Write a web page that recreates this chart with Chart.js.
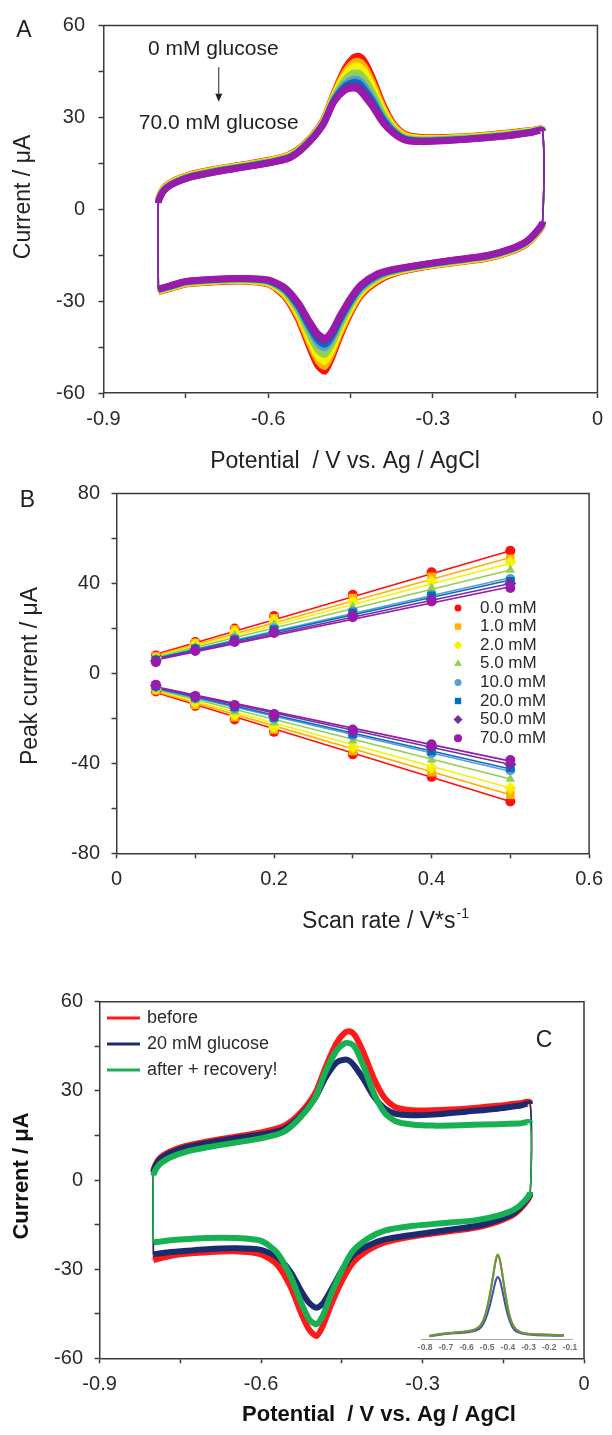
<!DOCTYPE html>
<html>
<head>
<meta charset="utf-8">
<script src="https://cdn.jsdelivr.net/npm/chart.js@4.4.1/dist/chart.umd.min.js"></script>
<style>
  body { margin: 0; background: #fff; }
  #figure { position: relative; width: 612px; height: 1435px; }
  #figure canvas { position: absolute; left: 0; }
</style>
</head>
<body>
<div id="figure">
  <canvas id="cvGlucose" width="612" height="480" style="top:0"></canvas>
  <canvas id="peakCurrents" width="612" height="480" style="top:470px"></canvas>
  <canvas id="cvRecovery" width="612" height="485" style="top:950px"></canvas>
  <canvas id="dpvInset" width="190" height="130" style="left:400px; top:1230px"></canvas>
</div>
<script>
// ---- Panel A: cyclic voltammograms with increasing glucose ----
const concentrations = ['0.0 mM', '1.0 mM', '2.0 mM', '5.0 mM', '10.0 mM', '20.0 mM', '50.0 mM', '70.0 mM'];

// potential grid of the anodic (upper) and cathodic (lower) sweep, V
const anodicPotential = [-0.8, -0.8, -0.79, -0.77, -0.74, -0.70, -0.65, -0.60, -0.56, -0.53, -0.50, -0.48, -0.46,
  -0.445, -0.435, -0.425, -0.41, -0.39, -0.37, -0.35, -0.32, -0.28, -0.22, -0.16, -0.12, -0.10];
const cathodicPotential = [-0.10, -0.11, -0.13, -0.16, -0.20, -0.26, -0.32, -0.37, -0.40, -0.43, -0.45, -0.47,
  -0.485, -0.497, -0.51, -0.525, -0.545, -0.57, -0.60, -0.65, -0.70, -0.75, -0.78, -0.80];

// current in µA, one row per concentration
const anodicCurrents = [
  [-27, 3, 7, 9.5, 11.5, 13, 14.5, 16, 18, 22, 29, 38, 46, 49.5, 50, 48.5, 43, 34, 27.5, 24.5, 23.5, 23.5, 24, 25, 25.8, 26],
  [-26.9, 2.9, 6.9, 9.4, 11.4, 12.9, 14.4, 15.9, 17.8, 21.9, 28.8, 37.6, 44.9, 48, 48.4, 46.8, 41.6, 33.1, 27.1, 24.2, 23.3, 23.3, 23.9, 24.9, 25.7, 25.9],
  [-26.7, 2.7, 6.7, 9.2, 11.2, 12.7, 14.2, 15.7, 17.7, 21.7, 28.6, 37.1, 43.9, 46.6, 46.8, 45.2, 40.2, 32.3, 26.6, 23.9, 23.1, 23.2, 23.7, 24.7, 25.6, 25.9],
  [-26.5, 2.5, 6.5, 9, 11, 12.5, 14, 15.5, 17.4, 21.5, 28.3, 36.5, 42.4, 44.5, 44.5, 42.8, 38.3, 31, 26, 23.5, 22.8, 22.9, 23.5, 24.5, 25.4, 25.8],
  [-26.3, 2.3, 6.3, 8.8, 10.8, 12.3, 13.8, 15.3, 17.2, 21.3, 28, 35.9, 41, 42.5, 42.3, 40.5, 36.4, 29.8, 25.4, 23.1, 22.5, 22.7, 23.3, 24.3, 25.2, 25.7],
  [-26.2, 2.2, 6.2, 8.7, 10.7, 12.2, 13.7, 15.2, 17, 21.2, 27.8, 35.6, 40.2, 41.5, 41.2, 39.3, 35.4, 29.2, 25.1, 22.9, 22.3, 22.5, 23.2, 24.2, 25.2, 25.6],
  [-26.1, 2.1, 6.1, 8.6, 10.6, 12.1, 13.6, 15.1, 16.9, 21.1, 27.7, 35.3, 39.5, 40.5, 40.1, 38.2, 34.5, 28.6, 24.8, 22.7, 22.2, 22.4, 23.1, 24.1, 25.1, 25.6],
  [-26, 2, 6, 8.5, 10.5, 12, 13.5, 15, 16.8, 21, 27.5, 35, 38.8, 39.5, 39, 37, 33.5, 28, 24.5, 22.5, 22, 22.3, 23, 24, 25, 25.5]
];
const cathodicCurrents = [
  [-5, -8, -11.5, -14, -16, -17.5, -19, -21, -23.5, -28, -34, -42, -49, -53, -51, -45, -36, -28.5, -24.5, -23.5, -23.8, -24.5, -26, -27],
  [-4.9, -7.9, -11.4, -13.9, -15.9, -17.4, -18.9, -20.8, -23.1, -27.5, -33.3, -41, -47.7, -51.4, -49.4, -43.7, -35.2, -28.1, -24.3, -23.4, -23.7, -24.4, -25.9, -26.9],
  [-4.7, -7.7, -11.2, -13.7, -15.7, -17.2, -18.7, -20.6, -22.8, -27, -32.6, -40, -46.4, -49.8, -48, -42.5, -34.4, -27.6, -24.1, -23.2, -23.5, -24.2, -25.7, -26.7],
  [-4.5, -7.5, -11, -13.5, -15.5, -17, -18.5, -20.3, -22.3, -26.3, -31.5, -38.5, -44.5, -47.5, -45.8, -40.8, -33.3, -27, -23.8, -23, -23.3, -24, -25.5, -26.5],
  [-4.3, -7.3, -10.8, -13.3, -15.3, -16.8, -18.3, -20, -21.8, -25.6, -30.5, -37.1, -42.7, -45.3, -43.7, -39.1, -32.2, -26.4, -23.5, -22.8, -23.1, -23.8, -25.3, -26.3],
  [-4.2, -7.2, -10.7, -13.2, -15.2, -16.7, -18.2, -19.8, -21.5, -25.2, -30, -36.4, -41.8, -44.2, -42.6, -38.2, -31.6, -26.1, -23.3, -22.7, -23, -23.7, -25.2, -26.2],
  [-4.1, -7.1, -10.6, -13.1, -15.1, -16.6, -18.1, -19.7, -21.3, -24.9, -29.5, -35.7, -40.9, -43.1, -41.6, -37.3, -31.1, -25.8, -23.2, -22.6, -22.9, -23.6, -25.1, -26.1],
  [-4, -7, -10.5, -13, -15, -16.5, -18, -19.5, -21, -24.5, -29, -35, -40, -42, -40.5, -36.5, -30.5, -25.5, -23, -22.5, -22.8, -23.5, -25, -26]
];

// ---- Panel B: peak current vs scan rate ----
const scanRates = [0.05, 0.1, 0.15, 0.2, 0.3, 0.4, 0.5];
const anodicPeaks = [
  [8, 14, 20, 25.5, 35, 45, 54.5],
  [7.5, 13.5, 19.5, 24.5, 33.5, 43, 51],
  [7, 13, 18.5, 23.5, 32, 41, 49.5],
  [7, 12, 17, 22, 29.5, 38, 46],
  [6, 11, 15.5, 20, 27.5, 35, 42],
  [6, 11, 15, 19.5, 27, 34.5, 41],
  [5.5, 10.5, 14.5, 18.5, 26, 33, 40],
  [5, 10, 14, 18, 25, 32, 38]
];
const cathodicPeaks = [
  [-8, -14.5, -20.5, -26, -36, -46, -57],
  [-7.5, -14, -19.5, -25, -34.5, -44, -54],
  [-7, -13, -18.5, -24, -33, -42, -51],
  [-6.5, -12, -17, -22, -30, -38.5, -47],
  [-6, -11, -15.5, -20, -27.5, -35.5, -43],
  [-5.5, -10.5, -15, -19.5, -27, -34.5, -42],
  [-5.5, -10.5, -14.5, -19, -26, -33, -40.5],
  [-5, -10, -14, -18, -25, -31.5, -38.5]
];
// linear fits, value at first and last scan rate
const fitRange = [0.05, 0.5];
const anodicFit = [[8.5, 54.5], [8, 51.5], [7.6, 49], [7.3, 46], [6.8, 42.5], [6.6, 41.5], [6.3, 40], [6, 38.5]];
const cathodicFit = [[-8.5, -57], [-8, -54], [-7.6, -51], [-7.2, -47], [-6.8, -43.5], [-6.5, -42.5], [-6.2, -40.5], [-6, -39]];

// ---- Panel C: before / with glucose / after ----
const recoveryLabels = ['before', '20 mM glucose', 'after + recovery!'];
const recoveryAnodic = [
  [-27, 3, 7, 9.5, 11.5, 13, 14.5, 16, 18, 22, 29, 38, 46, 49.5, 50, 48.5, 43, 34, 27.5, 24.5, 23.5, 23.5, 24, 25, 25.8, 26],
  [-25, 2.5, 6.5, 9, 11, 12.5, 14, 15.3, 17, 21, 27.5, 34.5, 39.5, 40.5, 40, 38, 34, 28, 24, 22.3, 21.8, 22, 23, 24, 25, 25.5],
  [-21, 1.5, 5, 7.5, 9.5, 11, 12.5, 14, 16, 20.5, 27.5, 36.5, 43.5, 46, 46, 44.5, 38.5, 29, 22.5, 19.8, 18.7, 18.3, 18.5, 18.8, 19, 19.2]
];
const recoveryCathodic = [
  [-5, -8, -11.5, -14, -16, -17.5, -19, -21, -23.5, -28, -34, -42, -49, -52.5, -50.5, -45, -36, -28.5, -25, -24, -24.3, -25, -26, -27],
  [-4.5, -7.5, -11, -13.5, -15.5, -17, -18.5, -20, -22, -25.5, -30.5, -37, -41.5, -43, -41.5, -37.5, -31, -26, -23.5, -23, -23.3, -24, -24.5, -25],
  [-4, -7, -10, -12, -13.5, -14.5, -15.5, -17, -19.5, -24, -30.5, -38.5, -45.5, -48.5, -47, -41.5, -32.5, -24.5, -20.5, -19.5, -19.5, -20, -20.5, -21]
];

// inset: peak traces
const insetPotential = [-0.78, -0.72, -0.66, -0.60, -0.56, -0.53, -0.51, -0.49, -0.47, -0.46, -0.45, -0.44, -0.43,
  -0.41, -0.39, -0.37, -0.34, -0.30, -0.25, -0.20, -0.15, -0.13];
const insetBefore = [1.0, 1.6, 2.0, 2.4, 3.0, 4.5, 7.5, 13, 20.5, 24.5, 26.8, 25.5, 22, 13.5, 7, 3.8, 2.2, 1.6, 1.4, 1.3, 1.2, 1.2];
const insetGlucose = [0.9, 1.4, 1.8, 2.1, 2.6, 3.7, 6, 10, 15.5, 18.3, 19.8, 19, 16.5, 10.2, 5.5, 3, 1.9, 1.4, 1.2, 1.1, 1.0, 1.0];
const insetAfter = [1.1, 1.7, 2.1, 2.5, 3.1, 4.6, 7.6, 13.2, 20.8, 24.8, 27, 25.6, 22, 13.4, 6.9, 3.8, 2.3, 1.7, 1.5, 1.4, 1.3, 1.3];

// tick positions
const potentialTicks = [-0.9, -0.75, -0.6, -0.45, -0.3, -0.15, 0];
const potentialLabels = [-0.9, -0.6, -0.3, 0];
const currentTicks = [-60, -45, -30, -15, 0, 15, 30, 45, 60];
const currentLabels = [-60, -30, 0, 30, 60];
const scanTicks = [0, 0.1, 0.2, 0.3, 0.4, 0.5, 0.6];
const scanLabels = [0, 0.2, 0.4, 0.6];
const peakTicks = [-80, -60, -40, -20, 0, 20, 40, 60, 80];
const peakLabels = [-80, -40, 0, 40, 80];
const insetTicks = [-0.8, -0.7, -0.6, -0.5, -0.4, -0.3, -0.2, -0.1];

// styles
const FONT = '"Liberation Sans", Arial, Helvetica, sans-serif';
const seriesColors = ['#ff1010', '#ffb000', '#f7f200', '#92d050', '#5b9bd5', '#0070c0', '#7030a0', '#9a1aac'];
const seriesMarkers = ['circle', 'rect', 'rectRot', 'triangle', 'circle', 'rect', 'rectRot', 'circle'];
const markerRadius = [5, 6, 6, 5.5, 5, 6, 6, 5];
const legendRadius = [3.5, 4.5, 4.5, 4.5, 3.5, 4.5, 4.5, 4];
const recoveryColors = ['#ff1a1a', '#1c2a6e', '#17b154'];
const insetColors = ['#e3652c', '#3a53a4', '#5f9c3c'];
const AXIS = '#3a3a3a';

Chart.defaults.font.family = FONT;
Chart.defaults.animation = false;
Chart.defaults.plugins.legend.display = false;
Chart.defaults.plugins.tooltip.enabled = false;

// top and right edge of the plot box
const frame = {
  id: 'frame',
  afterDraw(chart, args, o) {
    if (!o.color) return;
    const {ctx, chartArea: a} = chart;
    ctx.save();
    ctx.strokeStyle = o.color;
    ctx.lineWidth = o.width;
    ctx.beginPath();
    ctx.moveTo(a.left, a.top);
    ctx.lineTo(a.right, a.top);
    ctx.lineTo(a.right, a.bottom);
    ctx.stroke();
    ctx.restore();
  }
};

// free text, panel letters, axis titles and arrows
const panelText = {
  id: 'panelText',
  afterDraw(chart, args, o) {
    const ctx = chart.ctx;
    const {x: sx, y: sy} = chart.scales;
    (o.items || []).forEach(t => {
      let x = t.x, y = t.y;
      if (t.data) { x = sx.getPixelForValue(t.x); y = sy.getPixelForValue(t.y); }
      ctx.save();
      ctx.fillStyle = t.color || '#222';
      ctx.strokeStyle = t.color || '#222';
      ctx.translate(x, y);
      if (t.rotate) ctx.rotate(t.rotate);
      if (t.arrowTo !== undefined) {
        const y2 = sy.getPixelForValue(t.arrowTo) - y;
        ctx.lineWidth = 1;
        ctx.beginPath(); ctx.moveTo(0, 0); ctx.lineTo(0, y2 - 6); ctx.stroke();
        ctx.beginPath(); ctx.moveTo(-3.5, y2 - 8); ctx.lineTo(3.5, y2 - 8); ctx.lineTo(0, y2); ctx.closePath(); ctx.fill();
      } else {
        ctx.font = t.font;
        ctx.textBaseline = 'middle';
        let w = ctx.measureText(t.text).width, ws = 0;
        if (t.sup) { ctx.font = t.supFont; ws = ctx.measureText(t.sup).width; ctx.font = t.font; }
        ctx.textAlign = 'left';
        ctx.fillText(t.text, -(w + ws) / 2, 0);
        if (t.sup) { ctx.font = t.supFont; ctx.fillText(t.sup, -(w + ws) / 2 + w + 1, -8); }
      }
      ctx.restore();
    });
  }
};

// legend drawn inside the plot area
const innerLegend = {
  id: 'innerLegend',
  afterDraw(chart, args, o) {
    if (!o.labels) return;
    const ctx = chart.ctx;
    ctx.save();
    ctx.font = o.font;
    ctx.textBaseline = 'middle';
    ctx.textAlign = 'left';
    o.labels.forEach((label, i) => {
      const y = o.y + i * o.rowHeight;
      ctx.fillStyle = o.colors[i];
      ctx.strokeStyle = o.colors[i];
      if (o.kind === 'line') {
        ctx.lineWidth = o.lineWidth;
        ctx.beginPath(); ctx.moveTo(o.x, y); ctx.lineTo(o.x + o.lineLength, y); ctx.stroke();
      } else {
        Chart.helpers.drawPoint(ctx, {pointStyle: o.styles[i], radius: o.radii[i], rotation: 0, borderWidth: 0}, o.x, y);
      }
      ctx.fillStyle = o.textColor;
      ctx.fillText(label, o.textX, y);
    });
    ctx.restore();
  }
};

Chart.register(frame, panelText, innerLegend);

function loop(fwd, rev) {
  return anodicPotential.map((e, i) => ({x: e, y: fwd[i]}))
    .concat(cathodicPotential.map((e, i) => ({x: e, y: rev[i]})));
}

// vertical switching edges are drawn thin
const thinVertical = w => ctx => Math.abs(ctx.p0.x - ctx.p1.x) < 0.6 ? 1.5 : w;

function axis(min, max, ticks, labels, opts) {
  return {
    type: 'linear', min, max,
    afterBuildTicks: s => { s.ticks = ticks.map(v => ({value: v})); },
    afterFit: s => { if (opts.width) s.width = opts.width; if (opts.height) s.height = opts.height; },
    ticks: {
      autoSkip: false, maxRotation: 0, padding: opts.padding,
      color: '#2a2a2a', font: {size: 20},
      callback: v => labels.includes(v) ? String(v) : ''
    },
    grid: {drawOnChartArea: false, drawTicks: true, tickLength: 5, tickColor: AXIS, tickWidth: 1.5},
    border: {display: true, color: AXIS, width: 1.5}
  };
}

// Panel A
new Chart(document.getElementById('cvGlucose'), {
  type: 'scatter',
  data: {
    datasets: concentrations.map((c, i) => ({
      label: c,
      data: loop(anodicCurrents[i], cathodicCurrents[i]),
      showLine: true,
      borderColor: seriesColors[i],
      borderWidth: 6.5,
      pointRadius: 0,
      tension: 0.25,
      segment: {borderWidth: thinVertical(6.5)},
      order: concentrations.length - i
    }))
  },
  options: {
    responsive: false,
    layout: {padding: {top: 20.7, right: 7.5, left: 0, bottom: 0}},
    scales: {
      x: axis(-0.9, 0, potentialTicks, potentialLabels, {height: 87, padding: 9}),
      y: axis(-60, 60, currentTicks, currentLabels, {width: 103.5, padding: 13.5})
    },
    plugins: {
      frame: {color: AXIS, width: 1.5},
      panelText: {items: [
        {text: 'A', x: 24, y: 31, font: '23px ' + FONT},
        {text: 'Current / μA', x: 23.5, y: 197, rotate: -Math.PI / 2, font: '23px ' + FONT},
        {text: 'Potential  / V vs. Ag / AgCl', x: 345, y: 462, font: '23px ' + FONT},
        {text: '0 mM glucose', x: -0.70, y: 52.2, data: true, font: '21px ' + FONT},
        {x: -0.69, y: 46.4, arrowTo: 35.1, data: true},
        {text: '70.0 mM glucose', x: -0.69, y: 28, data: true, font: '21px ' + FONT}
      ]}
    }
  }
});

// Panel B
const peakSets = [];
concentrations.forEach((c, i) => {
  peakSets.push({
    label: c,
    data: scanRates.map((r, k) => ({x: r, y: anodicPeaks[i][k]}))
      .concat(scanRates.map((r, k) => ({x: r, y: cathodicPeaks[i][k]}))),
    showLine: false,
    pointStyle: seriesMarkers[i],
    pointRadius: markerRadius[i],
    pointBackgroundColor: seriesColors[i],
    pointBorderWidth: 0,
    order: concentrations.length - i
  });
  [anodicFit[i], cathodicFit[i]].forEach(fit => {
    peakSets.push({
      label: c + ' fit',
      data: fitRange.map((r, k) => ({x: r, y: fit[k]})),
      showLine: true,
      borderColor: seriesColors[i],
      borderWidth: 1.6,
      pointRadius: 0,
      order: 20 + concentrations.length - i
    });
  });
});

new Chart(document.getElementById('peakCurrents'), {
  type: 'scatter',
  data: {datasets: peakSets},
  options: {
    responsive: false,
    layout: {padding: {top: 22.7, right: 18.5, left: 0, bottom: 0}},
    scales: {
      x: axis(0, 0.6, scanTicks, scanLabels, {height: 96.7, padding: 9}),
      y: axis(-80, 80, peakTicks, peakLabels, {width: 116.5, padding: 11.5})
    },
    plugins: {
      frame: {color: AXIS, width: 1.5},
      innerLegend: {
        labels: concentrations, colors: seriesColors, styles: seriesMarkers, radii: legendRadius,
        x: 458, textX: 480, y: 138, rowHeight: 18.6, font: '17px ' + FONT, textColor: '#2a2a2a'
      },
      panelText: {items: [
        {text: 'B', x: 27.5, y: 30.5, font: '23px ' + FONT},
        {text: 'Peak current / μA', x: 31, y: 206, rotate: -Math.PI / 2, font: '23px ' + FONT},
        {text: 'Scan rate / V*s', sup: '-1', x: 385, y: 451.7, font: '23px ' + FONT, supFont: '14px ' + FONT}
      ]}
    }
  }
});

// Panel C
new Chart(document.getElementById('cvRecovery'), {
  type: 'scatter',
  data: {
    datasets: recoveryLabels.map((c, i) => ({
      label: c,
      data: loop(recoveryAnodic[i], recoveryCathodic[i]),
      showLine: true,
      borderColor: recoveryColors[i],
      borderWidth: 6,
      pointRadius: 0,
      tension: 0.25,
      segment: {borderWidth: thinVertical(6)},
      order: recoveryLabels.length - i
    }))
  },
  options: {
    responsive: false,
    layout: {padding: {top: 51.7, right: 28, left: 0, bottom: 0}},
    scales: {
      x: axis(-0.9, 0, potentialTicks, potentialLabels, {height: 76.7, padding: 9}),
      y: axis(-60, 60, currentTicks, currentLabels, {width: 99.6, padding: 11.6})
    },
    plugins: {
      frame: {color: AXIS, width: 1.5},
      innerLegend: {
        kind: 'line', labels: recoveryLabels, colors: recoveryColors, lineWidth: 3, lineLength: 33,
        x: 107, textX: 147, y: 68, rowHeight: 26, font: '18px ' + FONT, textColor: '#2a2a2a'
      },
      panelText: {items: [
        {text: 'C', x: 544, y: 91, font: '23px ' + FONT},
        {text: 'Current / μA', x: 21.5, y: 226, rotate: -Math.PI / 2, font: 'bold 22px ' + FONT, color: '#111'},
        {text: 'Potential  / V vs. Ag / AgCl', x: 379, y: 465, font: 'bold 22px ' + FONT, color: '#111'}
      ]}
    }
  }
});

// Panel C inset
new Chart(document.getElementById('dpvInset'), {
  type: 'scatter',
  data: {
    datasets: [insetAfter, insetBefore, insetGlucose].map((vals, k) => ({
      label: recoveryLabels[[2, 0, 1][k]],
      data: insetPotential.map((e, i) => ({x: e, y: vals[i]})),
      showLine: true,
      borderColor: insetColors[[2, 0, 1][k]],
      borderWidth: 2,
      pointRadius: 0,
      cubicInterpolationMode: 'monotone'
    }))
  },
  options: {
    responsive: false,
    layout: {padding: {top: 15, right: 18, left: 21, bottom: 0}},
    scales: {
      x: {
        type: 'linear', min: -0.82, max: -0.09,
        afterBuildTicks: s => { s.ticks = insetTicks.map(v => ({value: v})); },
        afterFit: s => { s.height = 21; },
        ticks: {autoSkip: false, maxRotation: 0, padding: 4, color: '#707070',
          font: {size: 8.5, weight: 'bold'}, callback: v => v.toFixed(1)},
        grid: {drawOnChartArea: false, drawTicks: false},
        border: {display: true, color: '#a8a8a8', width: 1}
      },
      y: {type: 'linear', min: 0, max: 30, display: false}
    },
    plugins: {frame: false, panelText: false, innerLegend: false}
  }
});
</script>
</body>
</html>
